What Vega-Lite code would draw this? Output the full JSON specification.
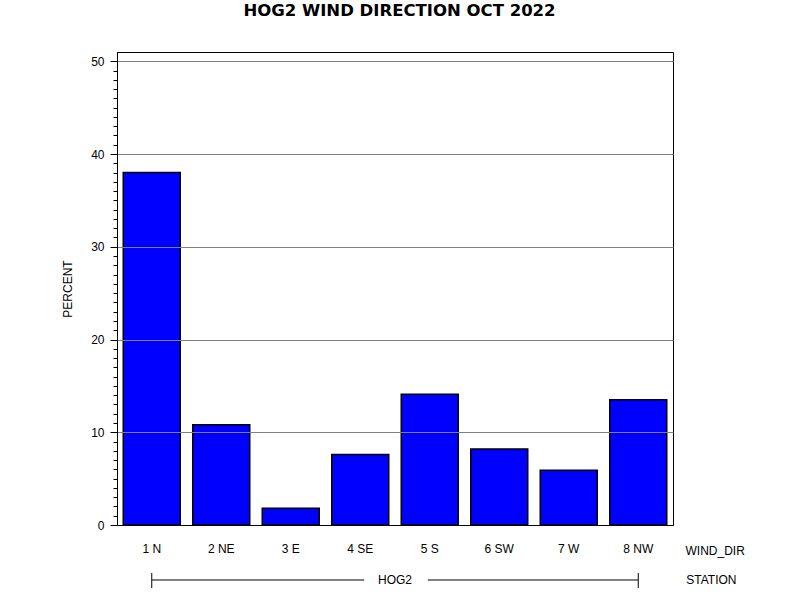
{
  "$schema": "https://vega.github.io/schema/vega-lite/v6.json",
  "width": 556,
  "height": 473,
  "autosize": {"type": "none"},
  "padding": {"left": 117, "top": 52, "right": 127, "bottom": 75},
  "background": "white",
  "title": {
    "text": "HOG2 WIND DIRECTION OCT 2022",
    "font": "DejaVu Sans",
    "fontSize": 16.5,
    "fontWeight": "bold",
    "color": "black",
    "anchor": "middle",
    "dx": 4.5,
    "baseline": "alphabetic",
    "offset": 20
  },
  "data": {
    "values": [
      {"WIND_DIR": "1 N", "STATION": "HOG2", "PERCENT": 38.0},
      {"WIND_DIR": "2 NE", "STATION": "HOG2", "PERCENT": 10.8},
      {"WIND_DIR": "3 E", "STATION": "HOG2", "PERCENT": 1.8},
      {"WIND_DIR": "4 SE", "STATION": "HOG2", "PERCENT": 7.6},
      {"WIND_DIR": "5 S", "STATION": "HOG2", "PERCENT": 14.1},
      {"WIND_DIR": "6 SW", "STATION": "HOG2", "PERCENT": 8.2},
      {"WIND_DIR": "7 W", "STATION": "HOG2", "PERCENT": 5.9},
      {"WIND_DIR": "8 NW", "STATION": "HOG2", "PERCENT": 13.5}
    ]
  },
  "resolve": {"axis": {"y": "independent", "x": "independent"}},
  "layer": [
    {
      "mark": {"type": "bar", "fill": "#0000FF", "stroke": "black", "strokeWidth": 1.5},
      "encoding": {
        "x": {
          "field": "WIND_DIR",
          "type": "nominal",
          "scale": {"paddingInner": 0.18, "paddingOuter": 0.09},
          "axis": {
            "orient": "bottom",
            "ticks": false,
            "tickSize": 0,
            "domain": true,
            "domainColor": "black",
            "labelAngle": 0,
            "labelPadding": 18,
            "labelFont": "Liberation Sans",
            "labelFontSize": 12,
            "labelColor": "black",
            "title": "WIND_DIR",
            "titleX": 568,
            "titleY": 25,
            "titleAlign": "left",
            "titleBaseline": "middle",
            "titleAngle": 0,
            "titleFont": "Liberation Sans",
            "titleFontSize": 12,
            "titleFontWeight": "normal",
            "titleColor": "black",
            "zindex": 1
          }
        },
        "y": {
          "field": "PERCENT",
          "type": "quantitative",
          "scale": {"domain": [0, 51], "nice": false, "zero": true},
          "axis": {
            "orient": "left",
            "values": [0, 10, 20, 30, 40, 50],
            "tickSize": 7,
            "tickColor": "black",
            "domainColor": "black",
            "labelFont": "Liberation Sans",
            "labelFontSize": 12,
            "labelColor": "black",
            "labelPadding": 6,
            "grid": true,
            "gridColor": {"condition": {"test": "datum.value === 0", "value": "black"}, "value": "#808080"},
            "gridWidth": 1,
            "title": "PERCENT",
            "titleFont": "Liberation Sans",
            "titleFontSize": 12,
            "titleFontWeight": "normal",
            "titleColor": "black",
            "titlePadding": 16,
            "zindex": 1
          }
        }
      }
    },
    {
      "transform": [{"filter": {"field": "WIND_DIR", "oneOf": ["1 N", "8 NW"]}}],
      "mark": {"type": "rule", "color": "black", "strokeWidth": 1},
      "encoding": {
        "x": {"field": "WIND_DIR", "type": "nominal", "axis": null},
        "y": {
          "datum": -5.18,
          "type": "quantitative",
          "axis": {
            "orient": "left",
            "values": [0,1,2,3,4,5,6,7,8,9,10,11,12,13,14,15,16,17,18,19,20,21,22,23,24,25,26,27,28,29,30,31,32,33,34,35,36,37,38,39,40,41,42,43,44,45,46,47,48,49,50],
            "tickSize": 4,
            "tickColor": "black",
            "labels": false,
            "domain": false,
            "grid": false,
            "title": null
          }
        },
        "y2": {"datum": -6.79}
      }
    },
    {
      "data": {"values": [{}]},
      "mark": {"type": "rule", "color": "black", "strokeWidth": 1, "x2Offset": 4},
      "encoding": {
        "x": {"datum": "1 N", "type": "nominal", "axis": null},
        "x2": {"datum": "4 SE"},
        "y": {"datum": -5.93, "type": "quantitative", "axis": null}
      }
    },
    {
      "data": {"values": [{}]},
      "mark": {"type": "rule", "color": "black", "strokeWidth": 1, "xOffset": -2},
      "encoding": {
        "x": {"datum": "5 S", "type": "nominal", "axis": null},
        "x2": {"datum": "8 NW"},
        "y": {"datum": -5.93, "type": "quantitative", "axis": null}
      }
    },
    {
      "transform": [{"aggregate": [{"op": "count", "as": "n"}], "groupby": ["STATION"]}],
      "mark": {"type": "text", "font": "Liberation Sans", "fontSize": 12, "color": "black", "align": "center", "baseline": "middle"},
      "encoding": {
        "x": {"datum": "4 SE", "type": "nominal", "bandPosition": 1.11, "axis": null},
        "y": {"datum": -5.93, "type": "quantitative", "axis": null},
        "text": {"field": "STATION", "type": "nominal"}
      }
    },
    {
      "data": {"values": [{}]},
      "mark": {"type": "text", "text": "STATION", "font": "Liberation Sans", "fontSize": 12, "color": "black", "align": "left", "baseline": "middle", "dx": 48},
      "encoding": {
        "x": {"datum": "8 NW", "type": "nominal", "axis": null},
        "y": {"datum": -5.93, "type": "quantitative", "axis": null}
      }
    }
  ],
  "config": {
    "view": {"stroke": "black", "strokeWidth": 1}
  }
}
